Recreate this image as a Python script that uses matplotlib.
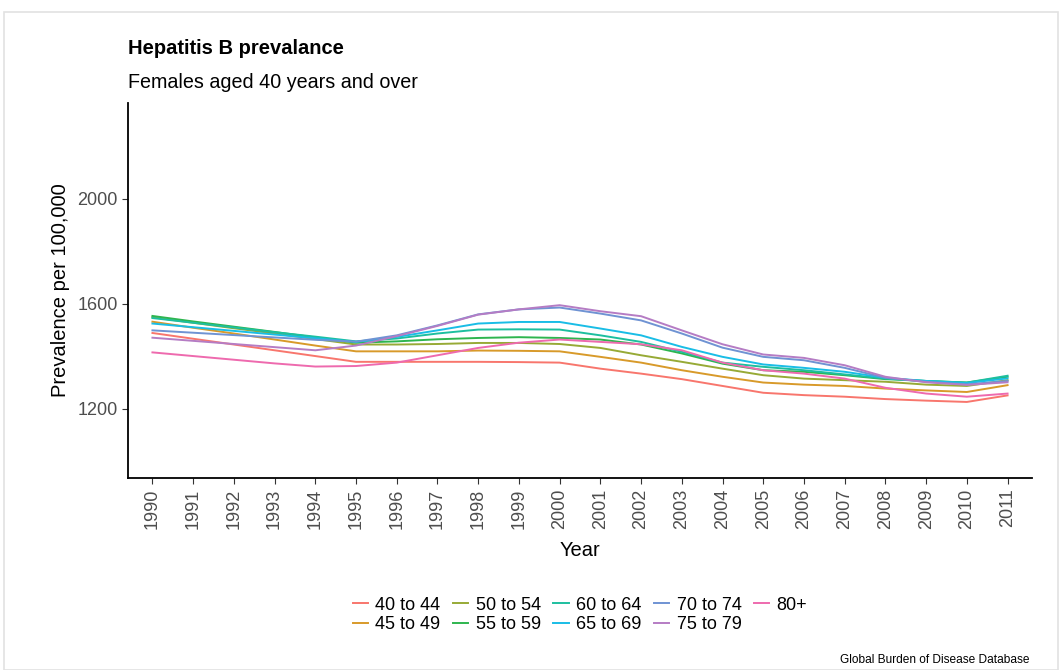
import matplotlib
matplotlib.use("Agg")
import matplotlib.pyplot as plt
from matplotlib.patches import Rectangle

plt.rcParams['font.family'] = ['Liberation Sans', 'DejaVu Sans']

years = list(range(1990, 2012))
age_groups = ["40 to 44", "45 to 49", "50 to 54", "55 to 59", "60 to 64",
              "65 to 69", "70 to 74", "75 to 79", "80+"]

# prevalence per 100,000
prev_40_44 = [1488, 1466, 1444, 1422, 1400, 1378, 1378, 1378, 1378, 1377, 1375,
              1352, 1333, 1312, 1286, 1260, 1251, 1245, 1236, 1230, 1225, 1250]
prev_45_49 = [1531, 1508, 1486, 1463, 1440, 1418, 1418, 1418, 1421, 1420, 1418,
              1397, 1375, 1346, 1321, 1299, 1291, 1286, 1276, 1269, 1263, 1289]
prev_50_54 = [1548, 1527, 1506, 1486, 1465, 1444, 1444, 1446, 1450, 1450, 1446,
              1431, 1403, 1378, 1352, 1327, 1314, 1308, 1302, 1291, 1286, 1308]
prev_55_59 = [1553, 1532, 1512, 1492, 1471, 1451, 1456, 1464, 1469, 1472, 1469,
              1463, 1444, 1410, 1371, 1346, 1340, 1327, 1312, 1305, 1299, 1321]
prev_60_64 = [1545, 1527, 1509, 1491, 1474, 1456, 1467, 1486, 1501, 1502, 1501,
              1479, 1454, 1416, 1375, 1359, 1346, 1330, 1314, 1305, 1299, 1325]
prev_65_69 = [1524, 1510, 1496, 1482, 1468, 1454, 1473, 1498, 1524, 1530, 1530,
              1505, 1479, 1435, 1397, 1368, 1355, 1340, 1317, 1305, 1297, 1315]
prev_70_74 = [1498, 1489, 1480, 1471, 1462, 1455, 1479, 1517, 1559, 1578, 1585,
              1562, 1536, 1486, 1432, 1397, 1384, 1355, 1317, 1302, 1292, 1305]
prev_75_79 = [1470, 1458, 1446, 1434, 1422, 1440, 1476, 1515, 1558, 1578, 1594,
              1571, 1552, 1498, 1445, 1406, 1393, 1365, 1321, 1300, 1290, 1300]
prev_80_plus = [1414, 1400, 1386, 1372, 1360, 1362, 1375, 1403, 1431, 1451, 1463,
                1454, 1445, 1422, 1375, 1346, 1333, 1314, 1279, 1257, 1245, 1257]

series = [prev_40_44, prev_45_49, prev_50_54, prev_55_59, prev_60_64,
          prev_65_69, prev_70_74, prev_75_79, prev_80_plus]
colors = ["#F8766D", "#D89A2A", "#97AA36", "#2EB54F", "#1DBF9F",
          "#19BDE6", "#6F93D3", "#B57CC4", "#EE6AAE"]

fig = plt.figure(figsize=(10.6, 6.7), dpi=100)

# faint frame around the whole picture
fig.patches.append(Rectangle((4 / 1060, 0), 1 - 6 / 1060, 1 - 12 / 670,
                             transform=fig.transFigure, fill=False,
                             edgecolor="#e2e2e2", linewidth=1.2))

ax = fig.add_axes([128 / 1060, 1 - 478 / 670, 904 / 1060, 375 / 670])

for label, vals, col in zip(age_groups, series, colors):
    ax.plot(years, vals, color=col, linewidth=1.4, label=label)

ax.set_xlim(1989.4, 2011.6)
ax.set_ylim(935, 2365)
ax.set_xticks(years)
ax.set_xticklabels([str(y) for y in years], rotation=90)
ax.set_yticks([1200, 1600, 2000])

for side in ["top", "right"]:
    ax.spines[side].set_visible(False)
for side in ["left", "bottom"]:
    ax.spines[side].set_linewidth(1.3)
    ax.spines[side].set_color("black")
ax.tick_params(axis="both", colors="#333333", labelcolor="#4d4d4d",
               labelsize=13, length=4, width=0.8)

ax.set_xlabel("Year", fontsize=14.5, labelpad=9)
ax.set_ylabel("Prevalence per 100,000", fontsize=14.5, labelpad=5)

fig.text(128 / 1060, 1 - 48 / 670, "Hepatitis B prevalance", fontsize=14.5,
         fontweight="bold", va="center", ha="left")
fig.text(128 / 1060, 1 - 82 / 670, "Females aged 40 years and over", fontsize=14.2,
         va="center", ha="left")
fig.text(1030 / 1060, 1 - 660 / 670, "Global Burden of Disease Database",
         fontsize=8.6, va="center", ha="right")

ax.legend(loc="center", bbox_to_anchor=(580 / 1060, 1 - 615 / 670),
          bbox_transform=fig.transFigure, ncol=5, frameon=False, fontsize=13,
          handlelength=0.85, handletextpad=0.4, columnspacing=0.7,
          labelspacing=0.15, borderpad=0)

fig.savefig("out.png", dpi=100)
